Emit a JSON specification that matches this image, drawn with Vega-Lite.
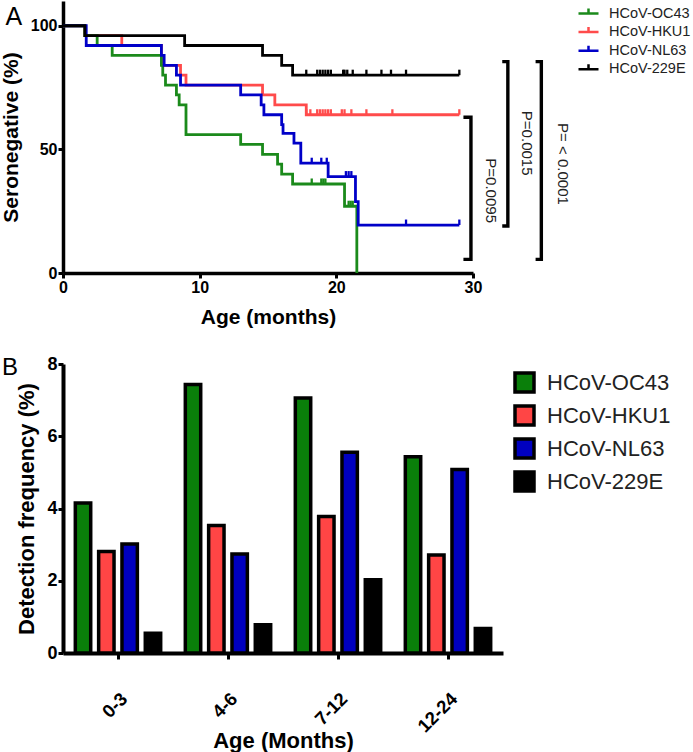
{
  "$schema": "https://vega.github.io/schema/vega-lite/v6.json",
  "background": "white",
  "padding": {"left": 0, "top": 1, "right": 0, "bottom": 0},
  "config": {
    "font": "Liberation Sans",
    "view": {"stroke": null},
    "axis": {
      "domainColor": "black", "tickColor": "black", "labelColor": "black", "titleColor": "black",
      "labelFont": "Liberation Sans", "titleFont": "Liberation Sans",
      "labelFontWeight": "bold", "titleFontWeight": "bold", "grid": false, "labelFlush": false
    },
    "legend": {"padding": 0, "titleFont": "Liberation Sans", "labelFont": "Liberation Sans"}
  },
  "datasets": {
    "km": [
      {"virus": "HCoV-HKU1", "age": 0, "pct": 100},
      {"virus": "HCoV-HKU1", "age": 1.6, "pct": 96},
      {"virus": "HCoV-HKU1", "age": 4.3, "pct": 92},
      {"virus": "HCoV-HKU1", "age": 7.2, "pct": 88},
      {"virus": "HCoV-HKU1", "age": 7.3, "pct": 84},
      {"virus": "HCoV-HKU1", "age": 8.6, "pct": 80},
      {"virus": "HCoV-HKU1", "age": 9.0, "pct": 76},
      {"virus": "HCoV-HKU1", "age": 14.6, "pct": 72},
      {"virus": "HCoV-HKU1", "age": 15.5, "pct": 68},
      {"virus": "HCoV-HKU1", "age": 17.8, "pct": 64},
      {"virus": "HCoV-HKU1", "age": 29.0, "pct": 64},
      {"virus": "HCoV-OC43", "age": 0, "pct": 100},
      {"virus": "HCoV-OC43", "age": 1.6, "pct": 96},
      {"virus": "HCoV-OC43", "age": 2.5, "pct": 92},
      {"virus": "HCoV-OC43", "age": 3.6, "pct": 88},
      {"virus": "HCoV-OC43", "age": 7.2, "pct": 84},
      {"virus": "HCoV-OC43", "age": 7.3, "pct": 80},
      {"virus": "HCoV-OC43", "age": 7.5, "pct": 76},
      {"virus": "HCoV-OC43", "age": 8.3, "pct": 72},
      {"virus": "HCoV-OC43", "age": 8.5, "pct": 68},
      {"virus": "HCoV-OC43", "age": 9.0, "pct": 56},
      {"virus": "HCoV-OC43", "age": 13.0, "pct": 52},
      {"virus": "HCoV-OC43", "age": 14.6, "pct": 48},
      {"virus": "HCoV-OC43", "age": 15.7, "pct": 44},
      {"virus": "HCoV-OC43", "age": 16.0, "pct": 40},
      {"virus": "HCoV-OC43", "age": 16.8, "pct": 36},
      {"virus": "HCoV-OC43", "age": 20.6, "pct": 27},
      {"virus": "HCoV-OC43", "age": 21.5, "pct": 0},
      {"virus": "HCoV-NL63", "age": 0, "pct": 100},
      {"virus": "HCoV-NL63", "age": 1.7, "pct": 92},
      {"virus": "HCoV-NL63", "age": 7.2, "pct": 88},
      {"virus": "HCoV-NL63", "age": 7.4, "pct": 84},
      {"virus": "HCoV-NL63", "age": 8.3, "pct": 80},
      {"virus": "HCoV-NL63", "age": 8.6, "pct": 76},
      {"virus": "HCoV-NL63", "age": 13.0, "pct": 72},
      {"virus": "HCoV-NL63", "age": 14.5, "pct": 68},
      {"virus": "HCoV-NL63", "age": 14.7, "pct": 64},
      {"virus": "HCoV-NL63", "age": 16.0, "pct": 60},
      {"virus": "HCoV-NL63", "age": 16.1, "pct": 56.5},
      {"virus": "HCoV-NL63", "age": 16.9, "pct": 52.5},
      {"virus": "HCoV-NL63", "age": 17.4, "pct": 44.4},
      {"virus": "HCoV-NL63", "age": 19.4, "pct": 39},
      {"virus": "HCoV-NL63", "age": 21.4, "pct": 28.9},
      {"virus": "HCoV-NL63", "age": 21.6, "pct": 19.4},
      {"virus": "HCoV-NL63", "age": 29.0, "pct": 19.4},
      {"virus": "HCoV-229E", "age": 0, "pct": 100},
      {"virus": "HCoV-229E", "age": 1.6, "pct": 96},
      {"virus": "HCoV-229E", "age": 8.9, "pct": 92},
      {"virus": "HCoV-229E", "age": 14.6, "pct": 88},
      {"virus": "HCoV-229E", "age": 16.0, "pct": 84},
      {"virus": "HCoV-229E", "age": 16.8, "pct": 80},
      {"virus": "HCoV-229E", "age": 29.0, "pct": 80}
    ],
    "censor": [
      {"virus": "HCoV-HKU1", "age": 17.8, "pct": 64},
      {"virus": "HCoV-HKU1", "age": 18.1, "pct": 64},
      {"virus": "HCoV-HKU1", "age": 18.6, "pct": 64},
      {"virus": "HCoV-HKU1", "age": 18.8, "pct": 64},
      {"virus": "HCoV-HKU1", "age": 19.0, "pct": 64},
      {"virus": "HCoV-HKU1", "age": 19.2, "pct": 64},
      {"virus": "HCoV-HKU1", "age": 19.4, "pct": 64},
      {"virus": "HCoV-HKU1", "age": 19.6, "pct": 64},
      {"virus": "HCoV-HKU1", "age": 20.4, "pct": 64},
      {"virus": "HCoV-HKU1", "age": 20.6, "pct": 64},
      {"virus": "HCoV-HKU1", "age": 21.1, "pct": 64},
      {"virus": "HCoV-HKU1", "age": 22.2, "pct": 64},
      {"virus": "HCoV-HKU1", "age": 24.1, "pct": 64},
      {"virus": "HCoV-HKU1", "age": 29.0, "pct": 64},
      {"virus": "HCoV-OC43", "age": 18.2, "pct": 36},
      {"virus": "HCoV-OC43", "age": 18.9, "pct": 36},
      {"virus": "HCoV-OC43", "age": 19.05, "pct": 36},
      {"virus": "HCoV-OC43", "age": 19.2, "pct": 36},
      {"virus": "HCoV-OC43", "age": 20.9, "pct": 27},
      {"virus": "HCoV-OC43", "age": 21.05, "pct": 27},
      {"virus": "HCoV-OC43", "age": 21.2, "pct": 27},
      {"virus": "HCoV-NL63", "age": 18.2, "pct": 44.4},
      {"virus": "HCoV-NL63", "age": 18.9, "pct": 44.4},
      {"virus": "HCoV-NL63", "age": 19.3, "pct": 44.4},
      {"virus": "HCoV-NL63", "age": 20.7, "pct": 39},
      {"virus": "HCoV-NL63", "age": 20.9, "pct": 39},
      {"virus": "HCoV-NL63", "age": 21.1, "pct": 39},
      {"virus": "HCoV-NL63", "age": 25.1, "pct": 19.4},
      {"virus": "HCoV-NL63", "age": 29.0, "pct": 19.4},
      {"virus": "HCoV-229E", "age": 17.8, "pct": 80},
      {"virus": "HCoV-229E", "age": 18.6, "pct": 80},
      {"virus": "HCoV-229E", "age": 18.8, "pct": 80},
      {"virus": "HCoV-229E", "age": 19.0, "pct": 80},
      {"virus": "HCoV-229E", "age": 19.2, "pct": 80},
      {"virus": "HCoV-229E", "age": 19.4, "pct": 80},
      {"virus": "HCoV-229E", "age": 19.6, "pct": 80},
      {"virus": "HCoV-229E", "age": 20.5, "pct": 80},
      {"virus": "HCoV-229E", "age": 20.6, "pct": 80},
      {"virus": "HCoV-229E", "age": 20.8, "pct": 80},
      {"virus": "HCoV-229E", "age": 21.2, "pct": 80},
      {"virus": "HCoV-229E", "age": 22.2, "pct": 80},
      {"virus": "HCoV-229E", "age": 23.3, "pct": 80},
      {"virus": "HCoV-229E", "age": 24.0, "pct": 80},
      {"virus": "HCoV-229E", "age": 25.1, "pct": 80},
      {"virus": "HCoV-229E", "age": 29.0, "pct": 80}
    ],
    "brackets": [
      {"bracket": "b1", "ord": 0, "age": 29.3, "pct": 63},
      {"bracket": "b1", "ord": 1, "age": 29.85, "pct": 63},
      {"bracket": "b1", "ord": 2, "age": 29.85, "pct": 5.5},
      {"bracket": "b1", "ord": 3, "age": 29.3, "pct": 5.5},
      {"bracket": "b2", "ord": 0, "age": 32.14, "pct": 85.5},
      {"bracket": "b2", "ord": 1, "age": 32.55, "pct": 85.5},
      {"bracket": "b2", "ord": 2, "age": 32.55, "pct": 19.0},
      {"bracket": "b2", "ord": 3, "age": 32.14, "pct": 19.0},
      {"bracket": "b3", "ord": 0, "age": 34.58, "pct": 85.5},
      {"bracket": "b3", "ord": 1, "age": 35.0, "pct": 85.5},
      {"bracket": "b3", "ord": 2, "age": 35.0, "pct": 5.5},
      {"bracket": "b3", "ord": 3, "age": 34.58, "pct": 5.5}
    ],
    "plabels": [
      {"age": 31.3, "pct": 33.3, "label": "P=0.0095"},
      {"age": 33.97, "pct": 52.5, "label": "P=0.0015"},
      {"age": 36.58, "pct": 44.1, "label": "P= < 0.0001"}
    ],
    "panel": [
      {"age": -3.6, "pct": 103.6, "label": "A"}
    ],
    "bars": [
      {"age_group": "0-3", "virus": "HCoV-OC43", "freq": 4.15},
      {"age_group": "0-3", "virus": "HCoV-HKU1", "freq": 2.81},
      {"age_group": "0-3", "virus": "HCoV-NL63", "freq": 3.02},
      {"age_group": "0-3", "virus": "HCoV-229E", "freq": 0.55},
      {"age_group": "4-6", "virus": "HCoV-OC43", "freq": 7.43},
      {"age_group": "4-6", "virus": "HCoV-HKU1", "freq": 3.53},
      {"age_group": "4-6", "virus": "HCoV-NL63", "freq": 2.74},
      {"age_group": "4-6", "virus": "HCoV-229E", "freq": 0.78},
      {"age_group": "7-12", "virus": "HCoV-OC43", "freq": 7.06},
      {"age_group": "7-12", "virus": "HCoV-HKU1", "freq": 3.78},
      {"age_group": "7-12", "virus": "HCoV-NL63", "freq": 5.56},
      {"age_group": "7-12", "virus": "HCoV-229E", "freq": 2.03},
      {"age_group": "12-24", "virus": "HCoV-OC43", "freq": 5.43},
      {"age_group": "12-24", "virus": "HCoV-HKU1", "freq": 2.71},
      {"age_group": "12-24", "virus": "HCoV-NL63", "freq": 5.08},
      {"age_group": "12-24", "virus": "HCoV-229E", "freq": 0.68}
    ]
  },
  "resolve": {"scale": {"color": "independent", "fill": "independent"}, "legend": {"color": "independent", "fill": "independent"}},
  "spacing": 28,
  "vconcat": [
    {
      "width": 410,
      "height": 272,
      "encoding": {
        "x": {"field": "age", "type": "quantitative",
          "scale": {"domain": [0, 30], "nice": false, "zero": false},
          "axis": {"title": "Age (months)", "values": [0, 10, 20, 30], "tickSize": 5, "tickWidth": 3, "domainWidth": 3.5,
            "labelFontSize": 16, "labelPadding": 1, "titleFontSize": 21, "titlePadding": 11}},
        "y": {"field": "pct", "type": "quantitative",
          "scale": {"domain": [0, 110], "nice": false, "zero": false},
          "axis": {"title": "Seronegative (%)", "values": [0, 50, 100], "tickSize": 5, "tickWidth": 3, "domainWidth": 3.5,
            "labelFontSize": 16, "labelPadding": 1, "titleFontSize": 21, "titlePadding": 9}}
      },
      "layer": [
        {
          "data": {"name": "km"},
          "mark": {"type": "line", "interpolate": "step-after", "strokeWidth": 2.8, "clip": false},
          "encoding": {
            "color": {"field": "virus", "type": "nominal",
              "scale": {"domain": ["HCoV-OC43", "HCoV-HKU1", "HCoV-NL63", "HCoV-229E"], "range": ["#1b8a1b", "#ff4b4b", "#0000c8", "#000000"]},
              "sort": ["HCoV-OC43", "HCoV-HKU1", "HCoV-NL63", "HCoV-229E"],
              "legend": {"orient": "none", "legendX": 514, "legendY": 1, "title": null,
                "symbolType": "M-1,0H1M0,0V-0.5", "symbolSize": 400, "symbolStrokeWidth": 2.5,
                "labelFontSize": 14.5, "labelFontWeight": "normal", "labelColor": "#222", "labelOffset": 9, "rowPadding": 0.6}}
          }
        },
        {
          "data": {"name": "censor"},
          "mark": {"type": "point", "shape": "M0,0V-1", "size": 121, "filled": false, "strokeWidth": 2.3, "opacity": 1, "clip": false},
          "encoding": {
            "color": {"field": "virus", "type": "nominal", "legend": null}
          }
        },
        {
          "data": {"name": "brackets"},
          "mark": {"type": "line", "color": "black", "strokeWidth": 3.4, "clip": false},
          "encoding": {
            "detail": {"field": "bracket"},
            "order": {"field": "ord", "type": "quantitative"}
          }
        },
        {
          "data": {"name": "plabels"},
          "mark": {"type": "text", "angle": 90, "fontSize": 15, "color": "#222", "align": "center", "baseline": "middle"},
          "encoding": {"text": {"field": "label"}}
        },
        {
          "data": {"name": "panel"},
          "mark": {"type": "text", "fontSize": 25, "color": "black", "align": "center", "baseline": "middle"},
          "encoding": {"text": {"field": "label"}}
        }
      ]
    },
    {
      "title": {"text": "B", "anchor": "start", "frame": "bounds", "fontSize": 24, "fontWeight": "normal", "color": "black", "offset": 0, "dx": -14, "dy": 25},
      "width": 440,
      "height": 289,
      "data": {"name": "bars"},
      "mark": {"type": "bar", "stroke": "black", "strokeWidth": 3.5},
      "encoding": {
        "x": {"field": "age_group", "type": "nominal", "sort": ["0-3", "4-6", "7-12", "12-24"],
          "scale": {"paddingInner": 0.224, "paddingOuter": 0.112},
          "axis": {"title": "Age (Months)", "labelAngle": -45, "tickSize": 6, "tickWidth": 3, "domainWidth": 4,
            "labelFontSize": 18.5, "labelPadding": 30, "titleFontSize": 22, "titlePadding": -5}},
        "xOffset": {"field": "virus", "type": "nominal", "sort": ["HCoV-OC43", "HCoV-HKU1", "HCoV-NL63", "HCoV-229E"],
          "scale": {"paddingInner": 0.34, "paddingOuter": 0}},
        "y": {"field": "freq", "type": "quantitative", "scale": {"domain": [0, 8], "nice": false},
          "axis": {"title": "Detection frequency (%)", "values": [0, 2, 4, 6, 8], "tickSize": 5, "tickWidth": 3, "domainWidth": 4,
            "labelFontSize": 18, "labelPadding": 1, "titleFontSize": 22, "titlePadding": 8}},
        "fill": {"field": "virus", "type": "nominal",
          "scale": {"domain": ["HCoV-OC43", "HCoV-HKU1", "HCoV-NL63", "HCoV-229E"], "range": ["#0a7f0a", "#ff4545", "#0000c0", "#000000"]},
          "legend": {"orient": "none", "legendX": 450, "legendY": 7, "title": null, "symbolType": "square", "symbolSize": 361,
            "symbolStrokeColor": "black", "symbolStrokeWidth": 3.5, "labelFontSize": 22, "labelFontWeight": "normal", "labelColor": "#222",
            "labelOffset": 11, "rowPadding": 0}}
      }
    }
  ]
}
